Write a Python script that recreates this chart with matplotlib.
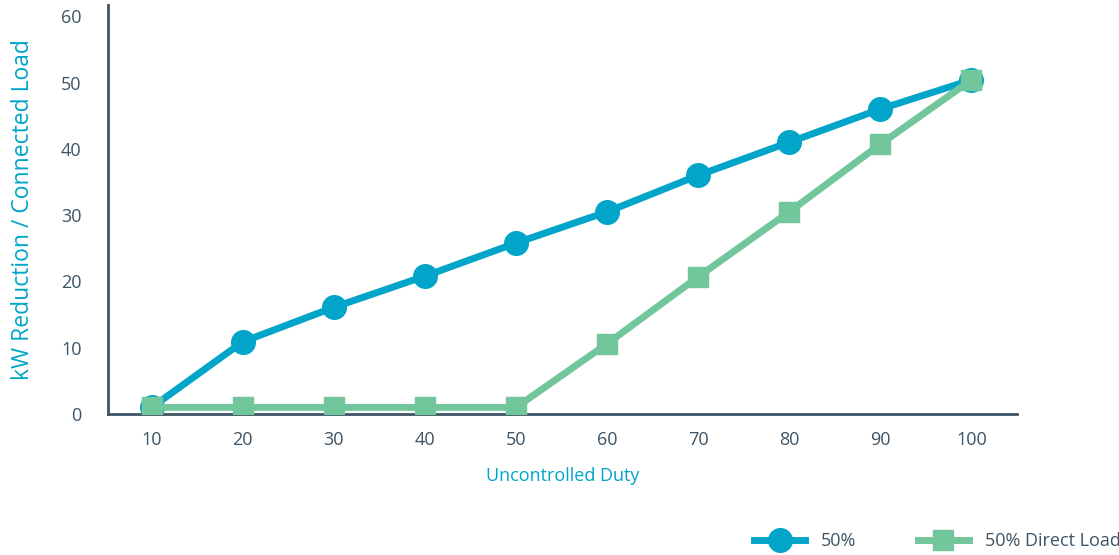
import matplotlib.pyplot as plt

duty = [10, 20, 30, 40, 50, 60, 70, 80, 90, 100]
reduction_50 = [1, 10.9, 16.1, 20.8, 25.8, 30.5, 36, 41, 46, 50.4]
reduction_direct = [1, 1, 1, 1, 1, 10.6, 20.7, 30.5, 40.7, 50.4]
series_names = ['50%', '50% Direct Load']

blue = '#00a5c9'
green = '#72c69b'
dark = '#3d5466'

plt.rcParams['font.family'] = ['Open Sans', 'DejaVu Sans']

fig = plt.figure(figsize=(11.19, 5.55), dpi=100)
ax = fig.add_axes([0.0965, 0.254, 0.8123, 0.737])

ax.plot(duty, reduction_50, color=blue, lw=5, marker='o', ms=17,
        label=series_names[0], zorder=2)
ax.plot(duty, reduction_direct, color=green, lw=5, marker='s', ms=15,
        label=series_names[1], zorder=3)

ax.set_xlim(5.2, 105)
ax.set_ylim(0, 61.7)
ax.set_xticks(duty)
ax.set_yticks(range(0, 61, 10))
ax.tick_params(length=0, labelsize=13, colors=dark)
ax.tick_params(axis='x', pad=12)
ax.tick_params(axis='y', pad=19)
for s in ['top', 'right']:
    ax.spines[s].set_visible(False)
for s in ['left', 'bottom']:
    ax.spines[s].set_color(dark)
    ax.spines[s].set_linewidth(2)

ax.set_xlabel('Uncontrolled Duty', color=blue, fontsize=13, labelpad=13)
ax.set_ylabel('kW Reduction / Connected Load', color=blue, fontsize=16.5, labelpad=19)

fig.legend(loc='lower right', bbox_to_anchor=(1.016, -0.02), ncol=2, frameon=False,
           fontsize=13, labelcolor=dark, handlelength=2.8, handletextpad=0.9,
           columnspacing=3.4)

fig.savefig('out.png', dpi=100)
